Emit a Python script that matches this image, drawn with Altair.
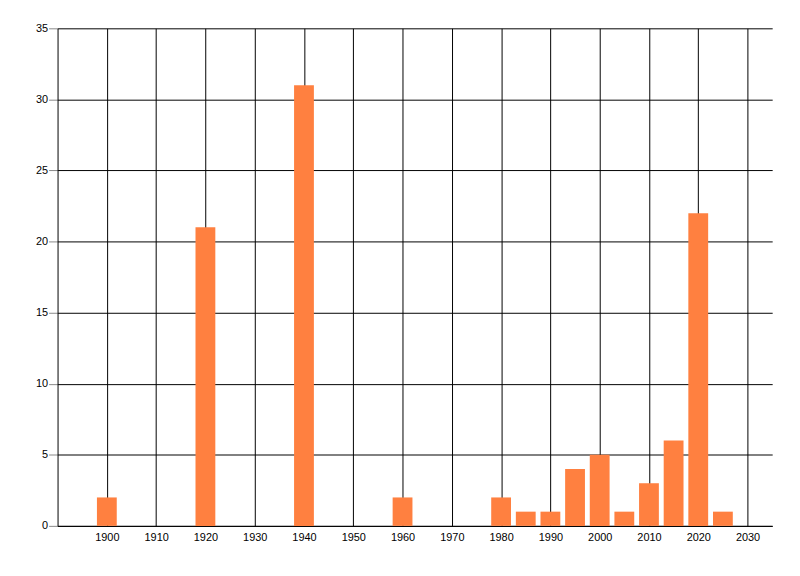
import altair as alt
import pandas as pd

years = [1900, 1920, 1940, 1960, 1980, 1985, 1990, 1995, 2000, 2005, 2010, 2015, 2020, 2025]
counts = [2, 21, 31, 2, 2, 1, 1, 4, 5, 1, 3, 6, 22, 1]
x_ticks = list(range(1900, 2031, 10))
y_ticks = list(range(0, 36, 5))

df = pd.DataFrame({'Year': years, 'Count': counts})

chart = alt.Chart(df).mark_bar(size=20, color='#FF8040').encode(
    alt.X('Year:Q', title=None,
          scale=alt.Scale(domain=[1890, 2035], nice=False, zero=False, padding=0),
          axis=alt.Axis(values=x_ticks, format='d', tickSize=0, labelPadding=6,
                        grid=True, gridColor='black', gridOpacity=1,
                        domainColor='black', labelColor='black',
                        labelFont='Liberation Sans', labelFontSize=11)),
    alt.Y('Count:Q', title=None,
          scale=alt.Scale(domain=[0, 35], nice=False),
          axis=alt.Axis(values=y_ticks, tickSize=9, tickColor='#888888', labelPadding=1,
                        grid=True, gridColor='black', gridOpacity=1,
                        domainColor='black', labelColor='black',
                        labelFont='Liberation Sans', labelFontSize=11))
).properties(
    width=721,
    height=502,
    autosize='none',
    padding={'left': 50, 'top': 18, 'right': 20, 'bottom': 40}
).configure_view(
    stroke=None
)

chart.save("out.html", embed_options={"renderer": "svg", "actions": False})
